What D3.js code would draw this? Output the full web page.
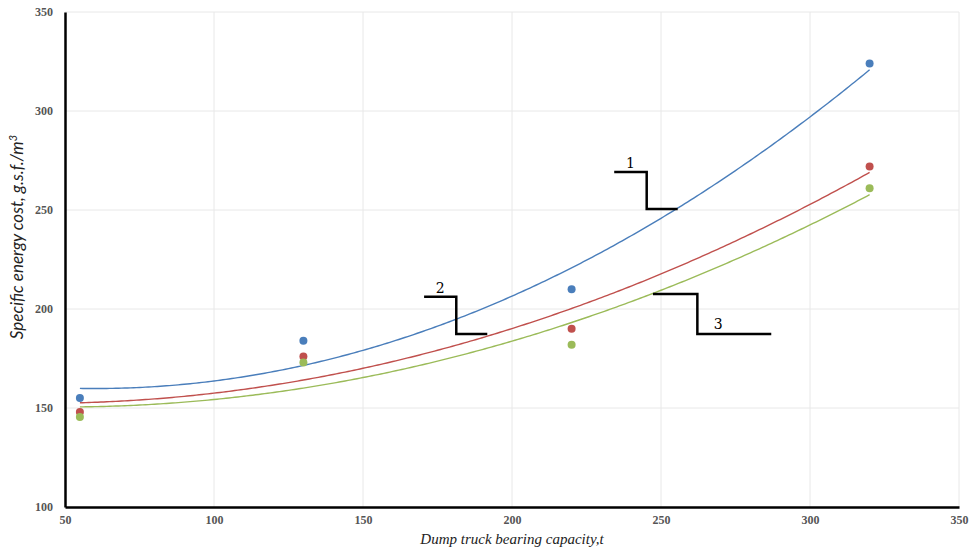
<!DOCTYPE html>
<html>
<head>
<meta charset="utf-8">
<script src="https://cdn.jsdelivr.net/npm/d3@7"></script>
<style>
  body { margin: 0; background: #fff; }
  svg { display: block; }
</style>
</head>
<body>
<div id="chart"></div>
<script>
// Data
const capacities = [55, 130, 220, 320];
const series1 = [155, 184, 210, 324];
const series2 = [148, 176, 190, 272];
const series3 = [145.5, 173, 182, 261];
const seriesColors = ["#4a7ebb", "#c0504d", "#9bbb59"];
const xTicks = [50, 100, 150, 200, 250, 300, 350];
const yTicks = [100, 150, 200, 250, 300, 350];

// Callout labels, in data units: [x0, x1, x2, yTop, yBottom]
const callouts = [
  { label: "1", path: [234.3, 245.2, 255.6, 269.2, 250.5] },
  { label: "2", path: [170.5, 181.3, 191.7, 206.2, 187.4] },
  { label: "3", path: [247.3, 262.2, 287, 207.6, 187.4] }
];

const width = 974, height = 551;
const margin = { top: 12, right: 15, bottom: 44, left: 65 };

const svg = d3.select("#chart").append("svg")
  .attr("width", width)
  .attr("height", height);

const x = d3.scaleLinear().domain([50, 350]).range([margin.left, width - margin.right]);
const y = d3.scaleLinear().domain([100, 350]).range([height - margin.bottom, margin.top]);

// Grid
svg.append("g")
  .selectAll("line.v")
  .data(xTicks.slice(1))
  .join("line")
  .attr("x1", d => x(d)).attr("x2", d => x(d))
  .attr("y1", y(100)).attr("y2", y(350))
  .attr("stroke", "#e8e8e8").attr("stroke-width", 1);

svg.append("g")
  .selectAll("line.h")
  .data(yTicks.slice(1))
  .join("line")
  .attr("x1", x(50)).attr("x2", x(350))
  .attr("y1", d => y(d)).attr("y2", d => y(d))
  .attr("stroke", "#e8e8e8").attr("stroke-width", 1);

// Axes
const xAxis = svg.append("g")
  .attr("transform", `translate(0,${y(100)})`)
  .call(d3.axisBottom(x).tickValues(xTicks).tickSize(0).tickPadding(8));
const yAxis = svg.append("g")
  .attr("transform", `translate(${x(50)},0)`)
  .call(d3.axisLeft(y).tickValues(yTicks).tickSize(0).tickPadding(12));

[xAxis, yAxis].forEach(ax => {
  ax.select(".domain").attr("stroke", "#000").attr("stroke-width", 2.5);
  ax.selectAll("text")
    .style("font-family", "'Liberation Serif', serif")
    .style("font-size", "12px")
    .style("font-weight", "bold")
    .style("fill", "#555");
});

// Quadratic least-squares trend (like a spreadsheet polynomial trendline)
function quadFit(xs, ys) {
  const S = k => d3.sum(xs, v => Math.pow(v, k));
  const T = k => d3.sum(xs, (v, i) => Math.pow(v, k) * ys[i]);
  const A = [
    [S(0), S(1), S(2), T(0)],
    [S(1), S(2), S(3), T(1)],
    [S(2), S(3), S(4), T(2)]
  ];
  for (let i = 0; i < 3; i++) {
    for (let j = i + 1; j < 3; j++) {
      const f = A[j][i] / A[i][i];
      for (let k = i; k < 4; k++) A[j][k] -= f * A[i][k];
    }
  }
  const c = [0, 0, 0];
  for (let i = 2; i >= 0; i--) {
    let s = A[i][3];
    for (let k = i + 1; k < 3; k++) s -= A[i][k] * c[k];
    c[i] = s / A[i][i];
  }
  return v => c[0] + c[1] * v + c[2] * v * v;
}

const allSeries = [series1, series2, series3];
const xRange = d3.range(capacities[0], capacities[capacities.length - 1] + 0.5, 1);
const line = d3.line().x(d => x(d[0])).y(d => y(d[1]));

allSeries.forEach((vals, i) => {
  const f = quadFit(capacities, vals);
  svg.append("path")
    .datum(xRange.map(v => [v, f(v)]))
    .attr("fill", "none")
    .attr("stroke", seriesColors[i])
    .attr("stroke-width", 1.4)
    .attr("d", line);
});

allSeries.forEach((vals, i) => {
  svg.append("g")
    .selectAll("circle")
    .data(vals)
    .join("circle")
    .attr("cx", (d, j) => x(capacities[j]))
    .attr("cy", d => y(d))
    .attr("r", 4)
    .attr("fill", seriesColors[i]);
});

// Callouts
callouts.forEach(c => {
  const [x0, x1, x2, yt, yb] = c.path;
  svg.append("path")
    .attr("d", `M${x(x0)},${y(yt)}H${x(x1)}V${y(yb)}H${x(x2)}`)
    .attr("fill", "none")
    .attr("stroke", "#000")
    .attr("stroke-width", 2.5);
  svg.append("text")
    .attr("x", c.label === "3" ? x(x2) - 53 : (x(x0) + x(x1)) / 2)
    .attr("y", c.label === "3" ? y(yb) - 5 : y(yt) - 4)
    .attr("text-anchor", "middle")
    .style("font-family", "'DejaVu Serif', serif")
    .style("font-size", "14px")
    .text(c.label);
});

// Axis titles
svg.append("text")
  .attr("x", (x(50) + x(350)) / 2)
  .attr("y", 544)
  .attr("text-anchor", "middle")
  .style("font-family", "'Liberation Serif', serif")
  .style("font-style", "italic")
  .style("font-size", "15px")
  .style("fill", "#222")
  .text("Dump truck bearing capacity,t");

const yTitle = svg.append("text")
  .attr("transform", `translate(23,237) rotate(-90)`)
  .attr("text-anchor", "middle")
  .style("font-family", "Lato, sans-serif")
  .style("font-style", "italic")
  .style("font-size", "17px")
  .style("fill", "#222");
yTitle.append("tspan").text("Specific energy cost, g.s.f./m");
yTitle.append("tspan").attr("dy", -6).style("font-size", "11px").text("3");
</script>
</body>
</html>
